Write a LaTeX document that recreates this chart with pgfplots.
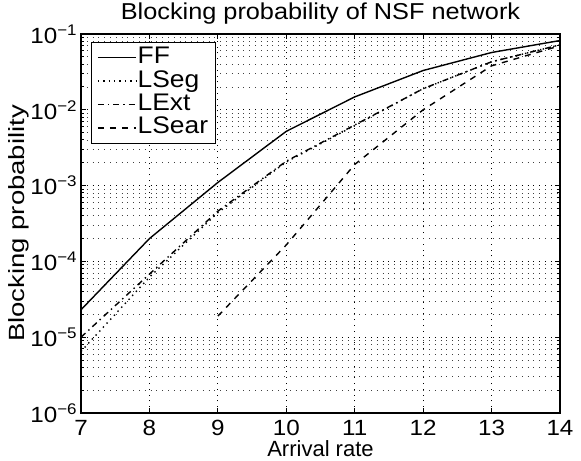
\documentclass[border=0pt]{standalone}
\usepackage{fontspec}
\setmainfont{Liberation Sans}
\newfontfamily\wide[FakeStretch=1.1]{Liberation Sans}
\newfontfamily\wider[FakeStretch=1.25]{Liberation Sans}
\usepackage{pgfplots}
\pgfplotsset{compat=1.18}

\begin{document}
\begin{tikzpicture}
\begin{axis}[
    width=239.5pt, height=189.5pt, scale only axis,
    ymode=log,
    xmin=7, xmax=14, ymin=1e-6, ymax=1e-1,
    xtick={7,...,14},
    ytick={1e-6,1e-5,1e-4,1e-3,1e-2,1e-1},
    yticklabels={10\textsuperscript{−6},10\textsuperscript{−5},10\textsuperscript{−4},10\textsuperscript{−3},10\textsuperscript{−2},10\textsuperscript{−1}},
    minor ytick={2e-6,3e-6,4e-6,5e-6,6e-6,7e-6,8e-6,9e-6,
                 2e-5,3e-5,4e-5,5e-5,6e-5,7e-5,8e-5,9e-5,
                 2e-4,3e-4,4e-4,5e-4,6e-4,7e-4,8e-4,9e-4,
                 2e-3,3e-3,4e-3,5e-3,6e-3,7e-3,8e-3,9e-3,
                 2e-2,3e-2,4e-2,5e-2,6e-2,7e-2,8e-2,9e-2},
    xmajorgrids, ymajorgrids, yminorgrids,
    major grid style={black, line width=0.4pt, dash pattern=on 0.5pt off 2.4pt},
    minor grid style={black!75, line width=0.4pt, dash pattern=on 0.5pt off 2.4pt},
    tick style={black, line width=0.5pt},
    major tick length=2.5pt, minor tick length=1.5pt,
    axis line style={line width=0.6pt},
    /pgf/number format/assume math mode=true,
    tick label style={font=\wide\fontsize{11}{13}\selectfont},
    yticklabel style={inner sep=1.5pt},
    every axis title shift=0pt,
    title style={font=\wide\fontsize{11.5}{13}\selectfont, inner sep=0pt, at={(0.5,1.055)}, anchor=center},
    title={Blocking probability of NSF network},
    xlabel={Arrival rate},
    ylabel={Blocking probability},
    xlabel style={font=\fontsize{11}{13}\selectfont, inner sep=0pt, at={(axis description cs:0.5,-0.095)}, anchor=center},
    ylabel style={font=\wider\fontsize{11}{13}\selectfont, inner sep=0pt, at={(axis description cs:-0.13,0.5)}, anchor=center, rotate=0},
    legend style={at={(0.02,0.98)}, anchor=north west, draw=black, line width=0.5pt,
        fill=white, font=\wide\fontsize{12}{13}\selectfont, row sep=0pt,
        nodes={inner sep=0.6pt, text height=8.2pt, text depth=2.3pt}},
    legend cell align=left,
    legend image code/.code={\draw[#1] (0pt,0pt) -- (19pt,0pt);},
]

\addplot[black, line width=0.7pt, solid] coordinates {
    (7,2.3e-5) (8,2.0e-4) (9,1.1e-3) (10,5.2e-3) (11,1.48e-2) (12,3.3e-2) (13,5.7e-2) (14,8.2e-2)
};
\addlegendentry{FF}

\addplot[black, line width=0.7pt, dotted] coordinates {
    (7,6.5e-6) (8,6.2e-5) (9,4.4e-4) (10,2.05e-3) (11,6.2e-3) (12,1.9e-2) (13,4.3e-2) (14,7.2e-2)
};
\addlegendentry{LSeg}

\addplot[black, line width=0.7pt, dash dot] coordinates {
    (7,1.0e-5) (8,6.8e-5) (9,4.6e-4) (10,2.1e-3) (11,6.3e-3) (12,1.9e-2) (13,4.3e-2) (14,7.2e-2)
};
\addlegendentry{LExt}

\addplot[black, line width=0.7pt, dashed] coordinates {
    (9,1.9e-5) (10,1.65e-4) (11,1.9e-3) (12,1.0e-2) (13,3.8e-2) (14,7.0e-2)
};
\addlegendentry{LSear}
\end{axis}
\path ([shift={(-40.5pt,-23.5pt)}]current axis.south west) rectangle ([shift={(10.5pt,17pt)}]current axis.north east);
\end{tikzpicture}
\end{document}
